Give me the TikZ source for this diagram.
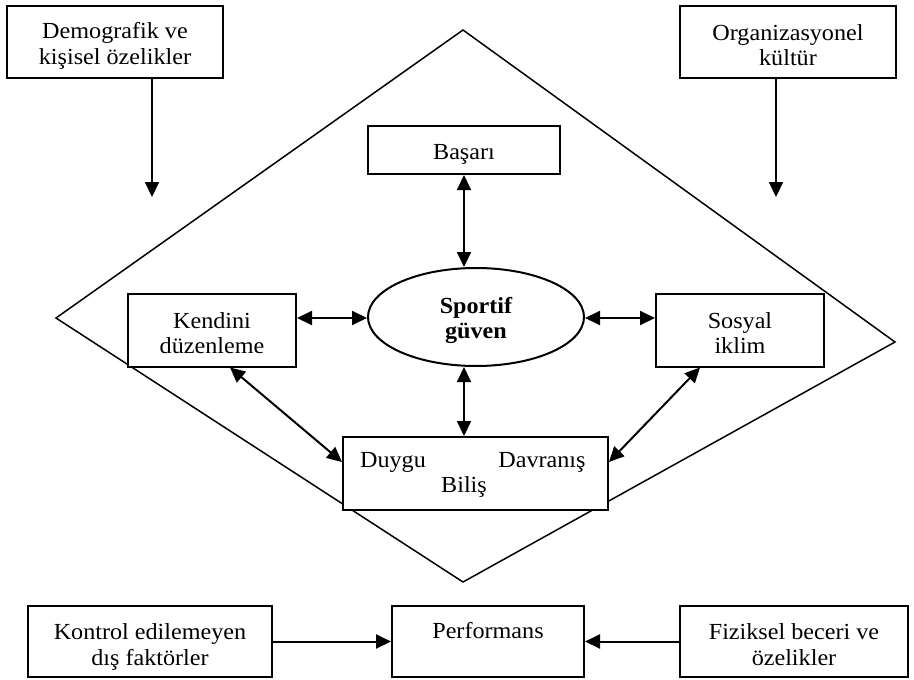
\documentclass[tikz,border=0pt]{standalone}
\usepackage{fontspec}
\setmainfont{Liberation Serif}[FakeStretch=1.05]
\usetikzlibrary{arrows.meta,shapes.geometric,calc}
\newcommand\tst[1]{\rule{0pt}{#1pt}}
\begin{document}
\begin{tikzpicture}[x=1pt,y=-1pt,
  txt/.style={font=\fontsize{23}{25.5}\selectfont},
  box/.style={draw,line width=2pt,fill=white,align=center,inner sep=0pt,txt},
  lbl/.style={inner sep=0pt,txt},
  arr/.style={line width=2pt,-{Triangle[length=15pt,width=14pt]}},
  dbl/.style={line width=2pt,{Triangle[length=15pt,width=14pt]}-{Triangle[length=15pt,width=14pt]}},
  diam/.style={line width=1.5pt}
]
\useasboundingbox (0,0) rectangle (914,680);
% diamond
\coordinate (dT) at (463,30);
\coordinate (dR) at (895,342);
\coordinate (dB) at (463,582);
\coordinate (dL) at (56,318);
\draw[diam] (dT) -- (dR) -- (dB) -- (dL) -- cycle;

% top boxes
\node[box,minimum width=216pt,minimum height=72pt] (demo) at (115,42) {\tst{24}Demografik ve\\kişisel özelikler};
\node[box,minimum width=216pt,minimum height=72pt] (org) at (788,42) {\tst{22}Organizasyonel\\kültür};
\coordinate (dA) at (152,197);
\coordinate (oA) at (776,197);
\draw[arr] (demo.south -| dA) -- (dA);
\draw[arr] (org.south -| oA) -- (oA);

% inner nodes
\node[box,minimum width=192pt,minimum height=48pt] (basari) at (464,150) {\tst{24}Başarı};
\node[draw,ellipse,line width=2pt,fill=white,inner sep=0pt,minimum width=216pt,minimum height=98pt,align=center,font=\fontsize{23}{25.5}\selectfont\bfseries] (sportif) at (476,317) {\tst{23}Sportif\\güven};
\node[box,minimum width=168pt,minimum height=73pt] (kendini) at (212,330) {\tst{22}Kendini\\düzenleme};
\node[box,minimum width=168pt,minimum height=73pt] (sosyal) at (740,330) {\tst{22}Sosyal\\iklim};
\node[box,minimum width=265pt,minimum height=73pt] (dbb) at (475.5,473.5) {};
\node[lbl] (duygu) at (393,462) {Duygu};
\node[lbl] (davranis) at (542,462) {Davranış};
\node[lbl] (bilis) at (464,487) {Biliş};

% connectors
\coordinate (hy) at (0,318);
\coordinate (dy) at (0,462);
\draw[dbl] (basari.south) -- (basari.south |- sportif.north);
\draw[dbl] (basari.south |- sportif.south) -- (basari.south |- dbb.north);
\draw[dbl] (kendini.east |- hy) -- (sportif.west |- hy);
\draw[dbl] (sportif.east |- hy) -- (sosyal.west |- hy);
\draw[dbl] ($(kendini.south)+(18,0)$) -- (dbb.west |- dy);
\draw[dbl] ($(sosyal.south)+(-40,0)$) -- (dbb.east |- dy);

% bottom row
\node[box,minimum width=244pt,minimum height=71pt] (kontrol) at (150,641.5) {\tst{26.5}Kontrol edilemeyen\\dış faktörler};
\node[box,minimum width=192pt,minimum height=71pt,text height=15pt,text depth=22pt] (perf) at (488,641.5) {Performans};
\node[box,minimum width=228pt,minimum height=71pt] (fiz) at (794,641.5) {\tst{22.5}Fiziksel beceri ve\\özelikler};
\draw[arr] (kontrol.east) -- (perf.west);
\draw[arr] (fiz.west) -- (perf.east);
\end{tikzpicture}
\end{document}
